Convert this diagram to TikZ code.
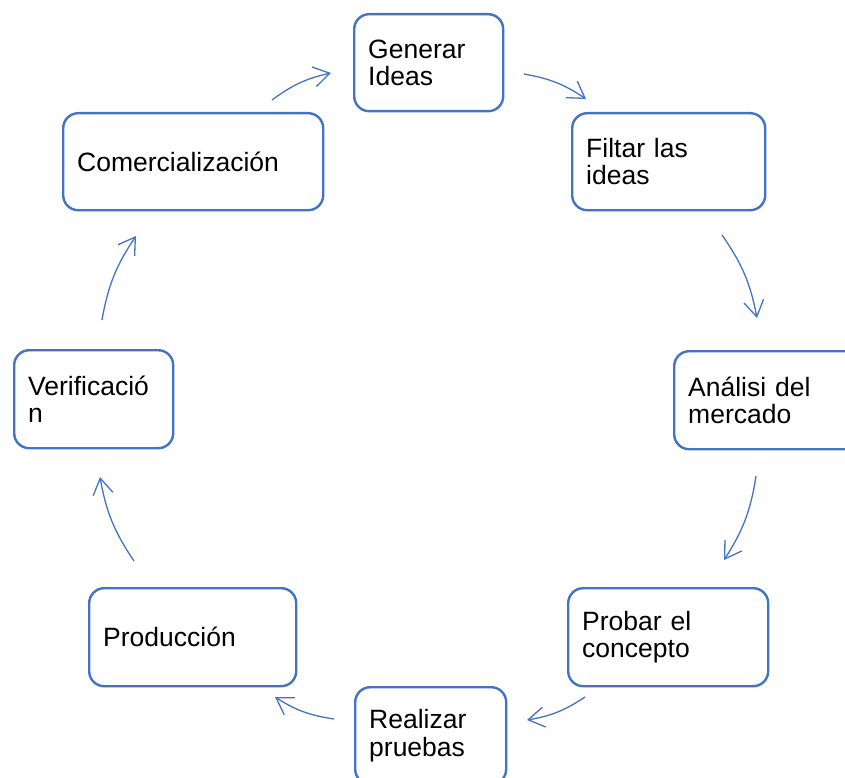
\documentclass[tikz,border=0pt]{standalone}
\usepackage{fontspec}
\setmainfont{Liberation Sans}
\usetikzlibrary{arrows.meta}
\definecolor{boxblue}{HTML}{4472C4}
\tikzset{
  stagebox/.style={draw=boxblue, line width=2.4pt, rounded corners=15pt, fill=white,
    anchor=north west, align=left, inner xsep=14pt, inner ysep=0pt,
    font=\fontsize{26.5}{27.5}\selectfont, text=black},
  cyclearrow/.style={draw=boxblue, line width=1.3pt, bend left=12,
    -{Straight Barb[length=16pt,width=20pt,line width=1.3pt]}}
}
\begin{document}
\begin{tikzpicture}[x=1pt,y=-1pt]
\useasboundingbox (0,0) rectangle (845,778);
\clip (0,0) rectangle (845,778);
\node[stagebox, text width=121pt, minimum height=97pt] (gen) at (353,13) {Generar\\Ideas};
\node[stagebox, text width=165pt, minimum height=97pt] (fil) at (571,112) {Filtar las\\ideas};
\node[stagebox, text width=162pt, minimum height=98pt] (ana) at (673,350) {Análisi del\\mercado};
\node[stagebox, text width=172pt, minimum height=98pt] (pro) at (567,587) {Probar el\\concepto};
\node[stagebox, text width=123pt, minimum height=97pt] (rea) at (354,686) {Realizar\\pruebas};
\node[stagebox, text width=179pt, minimum height=98pt] (prd) at (88,587) {Producción};
\node[stagebox, text width=131pt, minimum height=98pt] (ver) at (13,349) {Verificació\\n};
\node[stagebox, text width=232pt, minimum height=97pt] (com) at (62,112) {Comercialización};
\coordinate (a1s) at (272,100); \coordinate (a1e) at (331,73);
\coordinate (a2s) at (524,74);  \coordinate (a2e) at (586,99);
\coordinate (a3s) at (722,235); \coordinate (a3e) at (757,318);
\coordinate (a4s) at (756,476); \coordinate (a4e) at (724,560);
\coordinate (a5s) at (585,697); \coordinate (a5e) at (527,720);
\coordinate (a6s) at (334,719); \coordinate (a6e) at (275,697);
\coordinate (a7s) at (134,561); \coordinate (a7e) at (100,477);
\coordinate (a8s) at (102,320); \coordinate (a8e) at (136,236);
\draw[cyclearrow] (a1s) to (a1e);
\draw[cyclearrow] (a2s) to (a2e);
\draw[cyclearrow] (a3s) to (a3e);
\draw[cyclearrow] (a4s) to (a4e);
\draw[cyclearrow] (a5s) to (a5e);
\draw[cyclearrow] (a6s) to (a6e);
\draw[cyclearrow] (a7s) to (a7e);
\draw[cyclearrow] (a8s) to (a8e);
\end{tikzpicture}
\end{document}
